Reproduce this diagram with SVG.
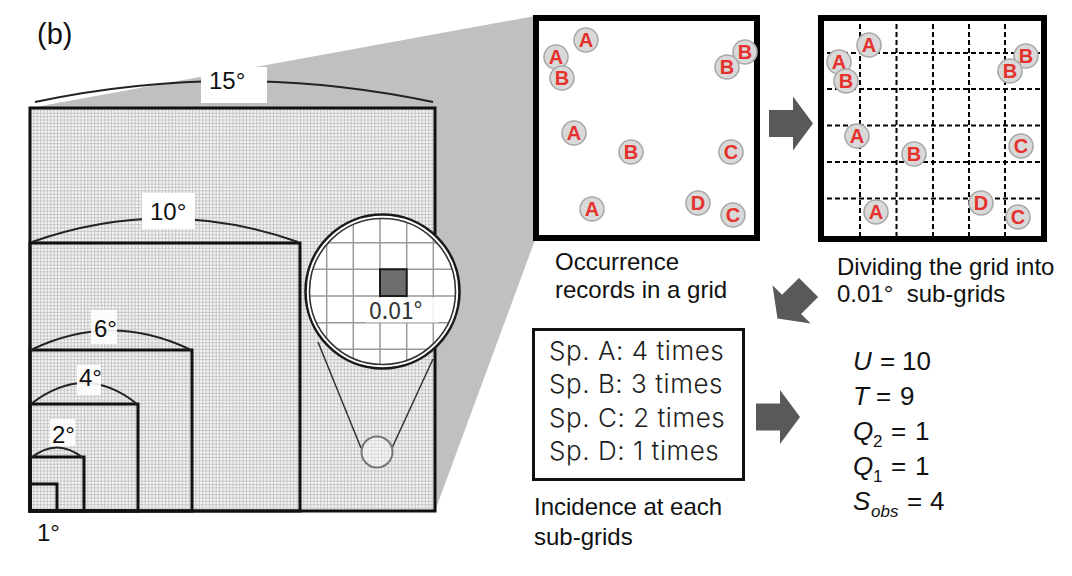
<svg xmlns="http://www.w3.org/2000/svg" width="1072" height="576" viewBox="0 0 1072 576">
<defs>
<pattern id="fine" x="30" y="511" width="27" height="27" patternUnits="userSpaceOnUse">
<rect width="27" height="27" fill="#f4f4f4"/>
<path d="M0.5,0V27M3.875,0V27M7.25,0V27M10.625,0V27M14,0V27M17.375,0V27M20.75,0V27M24.125,0V27M0,0.5H27M0,3.875H27M0,7.25H27M0,10.625H27M0,14H27M0,17.375H27M0,20.75H27M0,24.125H27" stroke="#c2c2c2" stroke-width="0.9" fill="none"/>
</pattern>
<clipPath id="magclip"><circle cx="382.5" cy="291.5" r="73"/></clipPath>
<polygon id="arr" points="-22,-13.5 2,-13.5 2,-27 22,0 2,27 2,13.5 -22,13.5"/>
<g id="pin"><circle r="12" fill="#d9d9d9" stroke="#a8a8a8" stroke-width="1.6"/></g>
</defs>
<style>
.lbl{font-family:"Liberation Sans",Arial,sans-serif;font-size:24px;fill:#111}
.deg{font-family:"Liberation Sans",Arial,sans-serif;font-size:24px;fill:#111}
.frm{font-family:"Liberation Sans",Arial,sans-serif;font-size:26px;fill:#111}
.it{font-style:italic}
.sub{font-size:17px}
.sp{font-family:Inter,"Noto Sans",sans-serif;font-size:26px;font-weight:300;fill:#1e1e1e;letter-spacing:0.55px}
.pl{font-family:"Liberation Sans",Arial,sans-serif;font-weight:bold;font-size:20px;fill:#e5322d;text-anchor:middle}
.box{fill:#fff;stroke:#000;stroke-width:6}
.sq{fill:none;stroke:#111;stroke-width:3}
.br{fill:none;stroke:#222;stroke-width:2}
.wb{fill:#fff}
.dash{stroke:#000;stroke-width:2;stroke-dasharray:5 3;fill:none}
.ar{fill:#595959}
</style>
<rect width="1072" height="576" fill="#fff"/>

<g id="funnel"><polygon points="30,108 535,16 535,240 435,511" fill="#c0c0c0"/></g>

<g id="extents">
<rect x="30" y="108" width="405" height="403" style="fill:url(#fine);stroke:#111;stroke-width:3"/>
<rect x="30" y="243" width="270" height="268" class="sq"/>
<rect x="30" y="350" width="162" height="161" class="sq"/>
<rect x="30" y="404" width="108" height="107" class="sq"/>
<rect x="30" y="457" width="54" height="54" class="sq"/>
<rect x="30" y="484" width="27" height="27" class="sq"/>
</g>

<g id="brackets">
<path class="br" d="M35,102 Q234,60 433,102"/>
<rect class="wb" x="201" y="67" width="66" height="36"/>
<text class="deg" x="209" y="89">15°</text>
<path class="br" d="M32,242 Q165,195 298,242"/>
<rect class="wb" x="142" y="193" width="53" height="36"/>
<text class="deg" x="150" y="220">10°</text>
<path class="br" d="M31,350 Q111,311 191,350"/>
<rect class="wb" x="91" y="310" width="26" height="34" opacity="0.9"/>
<text class="deg" x="94" y="337">6°</text>
<path class="br" d="M31,404 Q85,362 137,404"/>
<rect class="wb" x="77" y="365" width="24" height="30" opacity="0.9"/>
<text class="deg" x="79" y="386">4°</text>
<path class="br" d="M31,458 Q57,437 83,458"/>
<rect class="wb" x="50" y="419" width="25" height="27" opacity="0.9"/>
<text class="deg" x="52" y="443">2°</text>
<text class="deg" x="37" y="541">1°</text>
</g>

<text id="panel" class="lbl" x="37" y="44" style="font-size:29px">(b)</text>

<g id="connectors">
<line x1="318" y1="342" x2="361" y2="448" stroke="#333" stroke-width="1.5"/>
<line x1="433" y1="359" x2="392" y2="448" stroke="#333" stroke-width="1.5"/>
<use href="#arr" class="ar" transform="translate(791,123.5)"/>
<use href="#arr" class="ar" transform="translate(793,303) rotate(135)"/>
<use href="#arr" class="ar" transform="translate(778,417)"/>
</g>

<g id="spot"><circle cx="377" cy="452" r="15.5" fill="#fff" fill-opacity="0.35" stroke="#777" stroke-width="2"/></g>

<g id="magnifier">
<circle cx="382.5" cy="291.5" r="77" fill="#fff" stroke="#1a1a1a" stroke-width="2.6"/>
<g clip-path="url(#magclip)" stroke="#9a9a9a" stroke-width="1.5">
<path d="M326.7,210V375M353.3,210V375M380,210V375M406.7,210V375M433.3,210V375M300,242.7H465M300,269.3H465M300,296H465M300,322.7H465M300,349.3H465"/>
</g>
<rect x="380" y="269.3" width="26.7" height="26.7" fill="#6e6e6e" stroke="#1a1a1a" stroke-width="2"/>
<rect x="366" y="297.5" width="72" height="25" fill="#fff" opacity="0.85"/>
<text x="369" y="319" style="font-family:'Noto Sans CJK JP','Noto Sans',sans-serif;font-size:23px;fill:#333">0.01°</text>
<circle cx="382.5" cy="291.5" r="73" fill="none" stroke="#333" stroke-width="1.6"/>
</g>

<g id="occurrence">
<rect class="box" x="536" y="18" width="221" height="220"/>
<use href="#pin" x="586" y="40"/><text class="pl" x="586" y="47">A</text>
<use href="#pin" x="556" y="57"/><text class="pl" x="556" y="64">A</text>
<use href="#pin" x="562" y="78"/><text class="pl" x="562" y="85">B</text>
<use href="#pin" x="745" y="52"/><text class="pl" x="745" y="59">B</text>
<use href="#pin" x="727" y="67"/><text class="pl" x="727" y="74">B</text>
<use href="#pin" x="574" y="133"/><text class="pl" x="574" y="140">A</text>
<use href="#pin" x="631" y="152"/><text class="pl" x="631" y="159">B</text>
<use href="#pin" x="731" y="152"/><text class="pl" x="731" y="159">C</text>
<use href="#pin" x="592" y="209"/><text class="pl" x="592" y="216">A</text>
<use href="#pin" x="698" y="203"/><text class="pl" x="698" y="210">D</text>
<use href="#pin" x="733" y="215"/><text class="pl" x="733" y="222">C</text>
<text class="lbl" x="555" y="270">Occurrence</text>
<text class="lbl" x="555" y="298">records in a grid</text>
</g>

<g id="subgrid">
<rect class="box" x="821" y="18" width="223" height="221"/>
<path class="dash" d="M860,16V241M896.5,16V241M933,16V241M969,16V241M1005,16V241M819,53H1046M819,89H1046M819,125.5H1046M819,162H1046M819,198.5H1046"/>
<use href="#pin" x="869" y="45"/><text class="pl" x="869" y="52">A</text>
<use href="#pin" x="839" y="62"/><text class="pl" x="839" y="69">A</text>
<use href="#pin" x="846" y="81"/><text class="pl" x="846" y="88">B</text>
<use href="#pin" x="1026" y="56"/><text class="pl" x="1026" y="63">B</text>
<use href="#pin" x="1010" y="71"/><text class="pl" x="1010" y="78">B</text>
<use href="#pin" x="857" y="136"/><text class="pl" x="857" y="143">A</text>
<use href="#pin" x="914" y="154"/><text class="pl" x="914" y="161">B</text>
<use href="#pin" x="1021" y="146"/><text class="pl" x="1021" y="153">C</text>
<use href="#pin" x="876" y="212"/><text class="pl" x="876" y="219">A</text>
<use href="#pin" x="981" y="203"/><text class="pl" x="981" y="210">D</text>
<use href="#pin" x="1018" y="217"/><text class="pl" x="1018" y="224">C</text>
<text class="lbl" x="837" y="275">Dividing the grid into</text>
<text class="lbl" x="837" y="302" xml:space="preserve">0.01°  sub-grids</text>
</g>

<g id="incidence">
<rect x="533.5" y="329.5" width="210" height="150" fill="#fff" stroke="#111" stroke-width="3"/>
<text class="sp" x="549" y="360">Sp. A: 4 times</text>
<text class="sp" x="549" y="393">Sp. B: 3 times</text>
<text class="sp" x="549" y="427">Sp. C: 2 times</text>
<text class="sp" x="549" y="460">Sp. D: 1 times</text>
<text class="lbl" x="534" y="515">Incidence at each</text>
<text class="lbl" x="534" y="545">sub-grids</text>
</g>

<g id="estimates" class="frm">
<text x="853" y="370"><tspan class="it">U</tspan><tspan x="880">=</tspan><tspan x="902">10</tspan></text>
<text x="853" y="405"><tspan class="it">T</tspan><tspan x="876">=</tspan><tspan x="900">9</tspan></text>
<text x="853" y="440"><tspan class="it">Q</tspan><tspan class="sub" x="873" y="447">2</tspan><tspan x="891" y="440">=</tspan><tspan x="915">1</tspan></text>
<text x="853" y="475"><tspan class="it">Q</tspan><tspan class="sub" x="873" y="482">1</tspan><tspan x="891" y="475">=</tspan><tspan x="915">1</tspan></text>
<text x="853" y="510"><tspan class="it">S</tspan><tspan class="it sub" x="871" y="517">obs</tspan><tspan x="907" y="510">=</tspan><tspan x="930">4</tspan></text>
</g>
</svg>
